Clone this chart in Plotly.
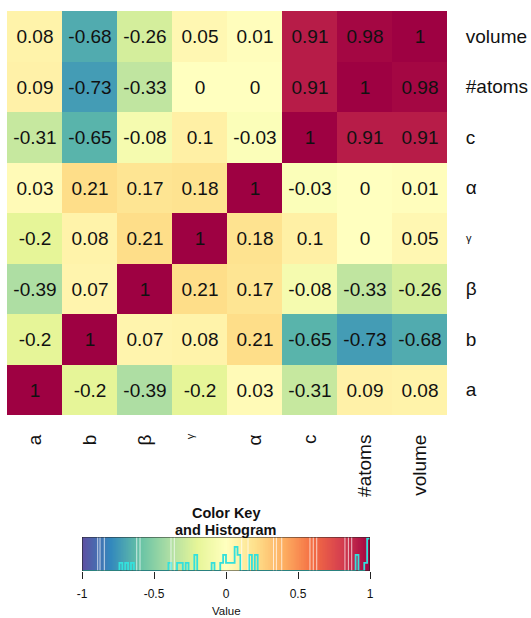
import numpy as np
import plotly.graph_objects as go

# ---------------- data ----------------
cols = ["a", "b", "β", "γ", "α", "c", "#atoms", "volume"]
rows_top_down = ["volume", "#atoms", "c", "α", "γ", "β", "b", "a"]

row_volume = [0.08, -0.68, -0.26, 0.05, 0.01, 0.91, 0.98, 1]
row_atoms = [0.09, -0.73, -0.33, 0, 0, 0.91, 1, 0.98]
row_c = [-0.31, -0.65, -0.08, 0.1, -0.03, 1, 0.91, 0.91]
row_alpha = [0.03, 0.21, 0.17, 0.18, 1, -0.03, 0, 0.01]
row_gamma = [-0.2, 0.08, 0.21, 1, 0.18, 0.1, 0, 0.05]
row_beta = [-0.39, 0.07, 1, 0.21, 0.17, -0.08, -0.33, -0.26]
row_b = [-0.2, 1, 0.07, 0.08, 0.21, -0.65, -0.73, -0.68]
row_a = [1, -0.2, -0.39, -0.2, 0.03, -0.31, 0.09, 0.08]

key_ticks = [-1, -0.5, 0, 0.5, 1]
key_tick_labels = ["-1", "-0.5", "0", "0.5", "1"]
n_colors = 100  # colour breaks of the key / histogram

# ---------------- styling ----------------
W, H = 531, 618
FONT = "Liberation Sans, Arial, Helvetica, sans-serif"
spectral = ["#9e0142", "#d53e4f", "#f46d43", "#fdae61", "#fee08b", "#ffffbf",
            "#e6f598", "#abdda4", "#66c2a5", "#3288bd", "#5e4fa2"]
spectral_r = spectral[::-1]
colorscale = [[i / (len(spectral_r) - 1), c] for i, c in enumerate(spectral_r)]

SMALL = "γ"  # label drawn in a smaller font in the reference


def lbl(s):
    return "" if s == SMALL else s


rows_top_matrix = [row_volume, row_atoms, row_c, row_alpha, row_gamma, row_beta, row_b, row_a]
z = rows_top_matrix[::-1]
rows_bottom_up = rows_top_down[::-1]
text = [["{:g}".format(v) for v in r] for r in z]

fig = go.Figure()

fig.add_trace(go.Heatmap(
    z=z, x=list(range(len(cols))), y=list(range(len(rows_bottom_up))),
    text=text, texttemplate="%{text}",
    textfont=dict(size=19, color="#111111", family=FONT),
    colorscale=colorscale, zmin=-1, zmax=1, showscale=False,
    hoverinfo="skip", xaxis="x", yaxis="y", xgap=0, ygap=0,
))

# colour key gradient
kv = np.linspace(-1, 1, 401)
fig.add_trace(go.Heatmap(
    z=[kv], x=kv, y=[0.5], colorscale=colorscale, zmin=-1, zmax=1,
    showscale=False, hoverinfo="skip", xaxis="x2", yaxis="y2",
))

# histogram (R style: right-closed bins)
vals = np.array([v for r in rows_top_matrix for v in r], dtype=float)
edges = np.round(np.linspace(-1, 1, n_colors + 1), 10)
idx = np.searchsorted(edges, vals, side="left") - 1
idx = np.clip(idx, 0, n_colors - 1)
counts = np.bincount(idx, minlength=n_colors).astype(float)
hy = np.append(counts, counts[-1]) / counts.max() * 0.95
fig.add_trace(go.Scatter(
    x=edges, y=hy, mode="lines", line=dict(color="#33e0dc", width=1.8, shape="hv"),
    xaxis="x2", yaxis="y2", hoverinfo="skip", cliponaxis=False, showlegend=False,
))

key_gap_lines = [-0.891, -0.875, -0.845, -0.62, -0.597, -0.382, -0.359,
                 0.109, 0.153, 0.33, 0.35, 0.387, 0.583, 0.606, 0.63, 0.826, 0.85, 0.873]
shapes = []
for g in key_gap_lines:
    shapes.append(dict(type="line", xref="x2", yref="y2", x0=g, x1=g, y0=0, y1=1,
                       line=dict(color="rgba(255,255,255,0.7)", width=1), layer="above"))
shapes.append(dict(type="rect", xref="x2", yref="y2", x0=-1, x1=1, y0=0, y1=1,
                   line=dict(color="#222222", width=1.2), layer="above"))

annotations = [
    dict(text="<b>Color Key</b>", x=226 / W, y=1 - 513 / H,
         xref="paper", yref="paper", showarrow=False, xanchor="center",
         yanchor="middle", font=dict(size=14.5, color="#111111")),
    dict(text="<b>and Histogram</b>", x=226 / W, y=1 - 530 / H,
         xref="paper", yref="paper", showarrow=False, xanchor="center",
         yanchor="middle", font=dict(size=14.5, color="#111111")),
    dict(text="Value", x=226 / W, y=1 - 611 / H, xref="paper", yref="paper",
         showarrow=False, xanchor="center", yanchor="middle",
         font=dict(size=11.5, color="#111111")),
]
# small γ labels (placed by category position on the heatmap axes)
gx = cols.index(SMALL)
gy = rows_bottom_up.index(SMALL)
annotations.append(dict(text=SMALL, x=gx - 0.17, y=1 - 436 / H, xref="x", yref="paper",
                        showarrow=False, textangle=-90, xanchor="center", yanchor="middle",
                        font=dict(size=11, color="#111111")))
annotations.append(dict(text=SMALL, x=464 / W, y=gy, xref="paper", yref="y",
                        showarrow=False, xanchor="left", yanchor="middle",
                        font=dict(size=11, color="#111111")))

fig.update_layout(
    width=W, height=H, margin=dict(l=0, r=0, t=0, b=0),
    template="none", paper_bgcolor="white", plot_bgcolor="white",
    font=dict(family=FONT, color="#111111"), showlegend=False,
    xaxis=dict(domain=[7 / W, 447 / W], range=[-0.5, 7.5], anchor="y",
               tickvals=list(range(len(cols))), ticktext=[lbl(c) for c in cols],
               tickangle=-90, ticks="outside", ticklen=11, tickcolor="rgba(0,0,0,0)",
               tickfont=dict(size=19), showgrid=False, zeroline=False, showline=False,
               fixedrange=True),
    yaxis=dict(domain=[1 - 415 / H, 1 - 11 / H], range=[-0.5, 7.5], anchor="x",
               side="right", tickvals=list(range(len(rows_bottom_up))),
               ticktext=[lbl(r) for r in rows_bottom_up],
               ticks="outside", ticklen=14, tickcolor="rgba(0,0,0,0)",
               tickfont=dict(size=19), showgrid=False, zeroline=False, showline=False,
               fixedrange=True),
    xaxis2=dict(domain=[82 / W, 370 / W], range=[-1, 1], anchor="y2",
                tickvals=key_ticks, ticktext=key_tick_labels, ticks="outside",
                ticklen=7, tickcolor="#222222", tickwidth=1, ticklabelstandoff=5,
                tickfont=dict(size=12), showgrid=False, zeroline=False,
                showline=False, fixedrange=True),
    yaxis2=dict(domain=[1 - 571 / H, 1 - 537 / H], range=[0, 1], anchor="x2",
                visible=False, fixedrange=True),
    shapes=shapes,
    annotations=annotations,
)

fig.write_html("out.html")
